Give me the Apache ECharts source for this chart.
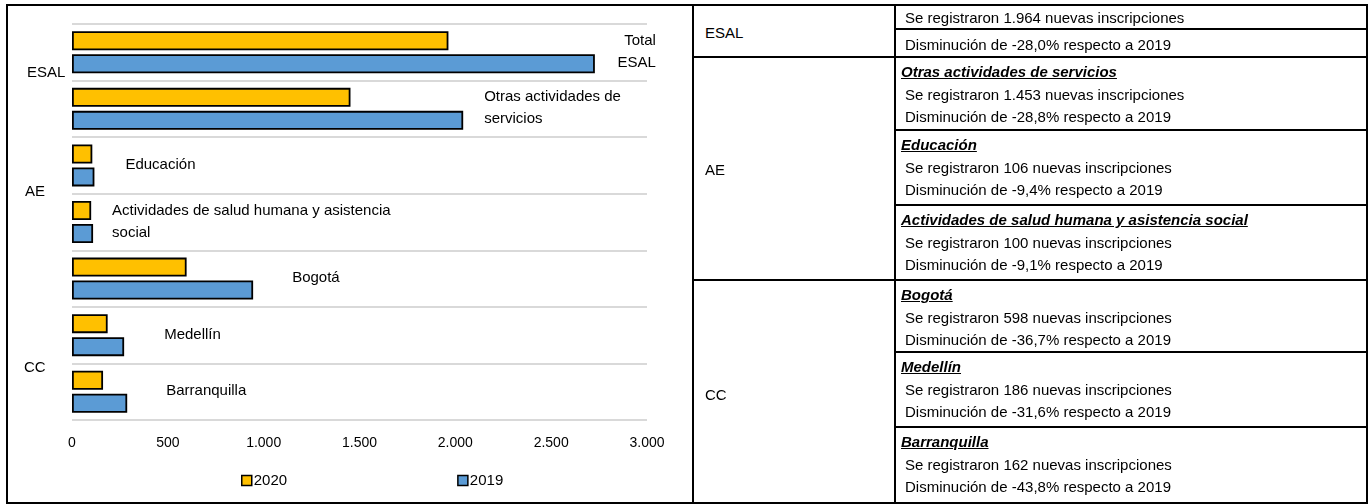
<!DOCTYPE html>
<html><head><meta charset="utf-8">
<script src="https://cdn.jsdelivr.net/npm/echarts/dist/echarts.min.js"></script>
<style>
body{margin:0;background:#fff;font-family:"Liberation Sans",Arial,sans-serif;}
#wrap{position:relative;width:1369px;height:504px;overflow:hidden;background:#fff;}
#chart{position:absolute;left:0;top:0;width:694px;height:504px;}
.ln{position:absolute;background:#000;}
.tx{position:absolute;font-size:15px;color:#000;white-space:nowrap;}
.tt{font-weight:bold;font-style:italic;text-decoration:underline;}
</style></head>
<body><div id="wrap"><div id="chart"></div><div id="tbl"></div></div>
<script>
// ---------- data ----------
const categories = ['Total ESAL', 'Otras actividades de servicios', 'Educación', 'Actividades de salud humana y asistencia social', 'Bogotá', 'Medellín', 'Barranquilla'];
const chartLabels = ['Total\nESAL', 'Otras actividades de\nservicios', 'Educación', 'Actividades de salud humana y asistencia\nsocial', 'Bogotá', 'Medellín', 'Barranquilla'];
const values2020 = [1964, 1453, 106, 100, 598, 186, 162];
const values2019 = [2728, 2041, 117, 110, 945, 272, 288];
const pctChange = [-28.0, -28.8, -9.4, -9.1, -36.7, -31.6, -43.8];
const groups = ['ESAL', 'AE', 'CC'];
const groupMembers = [[0], [1, 2, 3], [4, 5, 6]];
const seriesNames = ['2020', '2019'];
const xTicks = [0, 500, 1000, 1500, 2000, 2500, 3000];

const fmtInt = n => String(n).replace(/\B(?=(\d{3})+(?!\d))/g, '.');
const fmtPct = p => p.toFixed(1).replace('.', ',');

// ---------- chart ----------
const FONT = '"Liberation Sans", Arial, sans-serif';
const labelDist = [61, 21, 31, 19, 39, 40, 39];
const labelAlign = ['right', 'left', 'left', 'left', 'left', 'left', 'left'];
const chart = echarts.init(document.getElementById('chart'), null, {renderer: 'canvas'});
chart.setOption({
  animation: false,
  textStyle: {fontFamily: FONT},
  grid: {left: 72, top: 24, width: 575, height: 396, containLabel: false},
  legend: {
    data: seriesNames, left: 236, top: 468, itemGap: 170, itemWidth: 10, itemHeight: 10,
    icon: 'rect', itemStyle: {borderColor: '#000', borderWidth: 1.5},
    textStyle: {fontSize: 15, color: '#000', fontFamily: FONT, padding: [0, 0, 0, -3]}
  },
  xAxis: {
    type: 'value', min: xTicks[0], max: xTicks[xTicks.length - 1], interval: 500,
    axisLine: {show: false}, axisTick: {show: false}, splitLine: {show: false},
    axisLabel: {fontSize: 14, color: '#000', margin: 16, fontFamily: FONT, formatter: v => fmtInt(v)}
  },
  yAxis: {
    type: 'category', data: categories, inverse: true,
    axisLine: {show: false}, axisTick: {show: false}, axisLabel: {show: false},
    splitLine: {show: true, lineStyle: {color: '#d9d9d9', width: 2}}
  },
  series: [
    {name: seriesNames[0], type: 'bar', data: values2020, barWidth: 19, barGap: '21%',
     itemStyle: {color: '#FFC000', borderColor: '#000', borderWidth: 1.8}},
    {name: seriesNames[1], type: 'bar', barWidth: 19, barGap: '21%',
     itemStyle: {color: '#5B9BD5', borderColor: '#000', borderWidth: 1.8},
     data: values2019.map((v, i) => ({
       value: v,
       label: {show: true, position: 'right', distance: labelDist[i], offset: [0, -12],
               formatter: chartLabels[i], fontSize: 15, color: '#000', lineHeight: 22,
               fontFamily: FONT, align: labelAlign[i]}
     }))}
  ],
  graphic: [
    {type: 'text', left: 27, top: 65, style: {text: groups[0], fill: '#000', font: '15px ' + FONT}},
    {type: 'text', left: 25, top: 184, style: {text: groups[1], fill: '#000', font: '15px ' + FONT}},
    {type: 'text', left: 24, top: 360, style: {text: groups[2], fill: '#000', font: '15px ' + FONT}}
  ]
});

// ---------- frame & table ----------
const wrap = document.getElementById('wrap');
function line(x, y, w, h) {
  const d = document.createElement('div'); d.className = 'ln';
  d.style.left = x + 'px'; d.style.top = y + 'px'; d.style.width = w + 'px'; d.style.height = h + 'px';
  wrap.appendChild(d);
}
function text(x, yc, s, cls) {
  const d = document.createElement('div'); d.className = 'tx' + (cls ? ' ' + cls : '');
  d.textContent = s; d.style.left = x + 'px'; d.style.top = (yc - 9) + 'px'; d.style.lineHeight = '18px';
  wrap.appendChild(d);
}
// chart frame
line(6, 4, 1362, 2);      // top
line(6, 4, 2, 500);       // left
line(6, 502, 1362, 2);    // bottom
line(692, 4, 2, 500);     // chart/table separator
line(1366, 4, 2, 500);    // right
line(894, 4, 2, 500);     // table column divider
// table structure
const blockTops = [4, 56, 129, 204, 279, 351, 426, 502];
line(692, 56, 676, 2);
line(692, 279, 676, 2);
[28, 129, 204, 351, 426].forEach(y => line(894, y, 474, 2));

const TX = 905, TTX = 901;
// ESAL block
text(TX, 18, 'Se registraron ' + fmtInt(values2020[0]) + ' nuevas inscripciones');
text(TX, 45, 'Disminución de ' + fmtPct(pctChange[0]) + '% respecto a 2019');
// other blocks
for (let i = 1; i < categories.length; i++) {
  const top = blockTops[i];
  text(TTX, top + 16, categories[i], 'tt');
  text(TX, top + 39, 'Se registraron ' + fmtInt(values2020[i]) + ' nuevas inscripciones');
  text(TX, top + 61, 'Disminución de ' + fmtPct(pctChange[i]) + '% respecto a 2019');
}
// group labels in table
text(705, 33, groups[0]);
text(705, 170, groups[1]);
text(705, 395, groups[2]);
</script>
</body></html>
